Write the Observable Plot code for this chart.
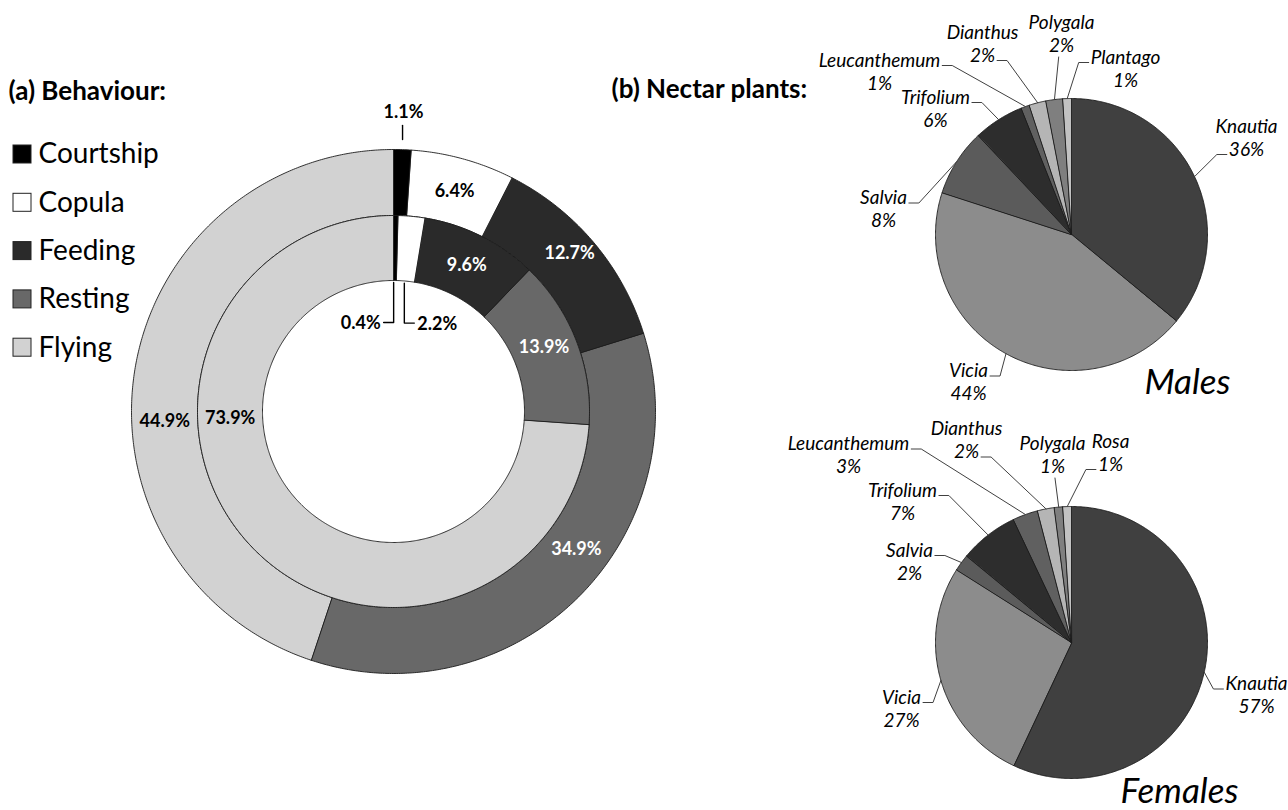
<!DOCTYPE html>
<html>
<head>
<meta charset="utf-8">
<script src="https://cdn.jsdelivr.net/npm/d3@7"></script>
<script src="https://cdn.jsdelivr.net/npm/@observablehq/plot@0.6"></script>
<style>
  body { margin: 0; background: #fff; }
  #chart svg { display: block; }
</style>
</head>
<body>
<div id="chart"></div>
<script>
// ---- data -------------------------------------------------------------
const behaviours = ["Courtship", "Copula", "Feeding", "Resting", "Flying"];
const outerRingShares = [1.1, 6.4, 12.7, 34.9, 44.9];
const innerRingShares = [0.4, 2.2, 9.6, 13.9, 73.9];

const malePlants = ["Knautia", "Vicia", "Salvia", "Trifolium", "Leucanthemum", "Dianthus", "Polygala", "Plantago"];
const maleShares = [36, 44, 8, 6, 1, 2, 2, 1];

const femalePlants = ["Knautia", "Vicia", "Salvia", "Trifolium", "Leucanthemum", "Dianthus", "Polygala", "Rosa"];
const femaleShares = [57, 27, 2, 7, 3, 2, 1, 1];

// ---- styling ----------------------------------------------------------
const FONT = "Lato, 'Open Sans', sans-serif";
const behaviourFill = ["#000000", "#ffffff", "#2a2a2a", "#686868", "#d2d2d2"];
const behaviourText = ["#000", "#000", "#fff", "#fff", "#000"];
const plantFill = {
  Knautia: "#404040", Vicia: "#8c8c8c", Salvia: "#5b5b5b", Trifolium: "#2d2d2d",
  Leucanthemum: "#606060", Dianthus: "#b5b5b5", Polygala: "#7f7f7f",
  Plantago: "#c2c2c2", Rosa: "#c2c2c2"
};
const PIE_LABEL_SIZE = 19;

// ---- layout -----------------------------------------------------------
const donut = {cx: 393, cy: 411, r0: 131, r1: 196, r2: 262};
const malePie = {cx: 1071, cy: 234, r: 136};
const femalePie = {cx: 1071, cy: 642, r: 136};

// label angle overrides (degrees clockwise from 12 o'clock) for ring labels
const ringLabelAngle = {outer: {2: 48, 3: 127, 4: 267.5}, inner: {3: 67, 4: 267.5}};
// small slices labelled outside the ring
const ringCallouts = [
  {ring: "outer", i: 0, dir: "up"},
  {ring: "inner", i: 0, dir: "down", side: -1},
  {ring: "inner", i: 1, dir: "down", side: 1}
];
// pie label blocks: [dx, dy from pie centre, leader side, line the leader hooks to]
const maleLabelLayout = [
  [175, -96.5, "left", 1], [-103, 148, "right", 0], [-188, -25, "right", 0],
  [-136, -125.5, "right", 0], [-192, -162.5, "right", 0], [-89, -190.5, "right", 1],
  [-10, -200, "below", 1], [54, -165.5, "left", 0]
];
const femaleLabelLayout = [
  [185, 53, "left", 0], [-170, 66.5, "right", 0], [-162, -80.5, "right", 0],
  [-169, -140.5, "right", 0], [-223, -187, "right", 0], [-105, -202, "right", 1],
  [-19, -187, "below", 1], [39, -189.5, "left", 1]
];

// ---- geometry helpers -------------------------------------------------
const rad = d => d * Math.PI / 180;
const polar = (cx, cy, r, deg) => ({x: cx + r * Math.sin(rad(deg)), y: cy - r * Math.cos(rad(deg))});

function angles(shares) {
  const total = d3.sum(shares);
  let acc = 0;
  return shares.map(v => {
    const a0 = acc / total * 360;
    acc += v;
    const a1 = acc / total * 360;
    return {a0, a1, mid: (a0 + a1) / 2};
  });
}

function arcPolygon(cx, cy, rIn, rOut, a0, a1) {
  const n = Math.max(2, Math.ceil((a1 - a0) / 0.5));
  const pts = [];
  for (let k = 0; k <= n; k++) pts.push(polar(cx, cy, rOut, a0 + (a1 - a0) * k / n));
  if (rIn > 0) {
    for (let k = n; k >= 0; k--) pts.push(polar(cx, cy, rIn, a0 + (a1 - a0) * k / n));
  } else {
    pts.push({x: cx, y: cy});
  }
  return pts;
}

const ctx = document.createElement("canvas").getContext("2d");
function textWidth(str, font) { ctx.font = font; return ctx.measureText(str).width; }

// ---- build rows -------------------------------------------------------
const sliceRows = [];
const ringLabels = [];
const calloutLines = [];
const calloutText = [];

const rings = {
  outer: {shares: outerRingShares, rIn: donut.r1, rOut: donut.r2},
  inner: {shares: innerRingShares, rIn: donut.r0, rOut: donut.r1}
};

for (const [ringName, ring] of Object.entries(rings)) {
  const ang = angles(ring.shares);
  ang.forEach((a, i) => {
    const key = `${ringName}-${behaviours[i]}`;
    for (const p of arcPolygon(donut.cx, donut.cy, ring.rIn, ring.rOut, a.a0, a.a1))
      sliceRows.push({key, fill: behaviourFill[i], ...p});
    const label = `${ring.shares[i].toFixed(1)}%`;
    const callout = ringCallouts.find(c => c.ring === ringName && c.i === i);
    if (callout) {
      if (callout.dir === "up") {
        const x = polar(donut.cx, donut.cy, ring.rOut, a.mid).x;
        const yTop = donut.cy - ring.rOut;
        calloutLines.push({key, x, y: yTop - 10}, {key, x, y: yTop - 24});
        calloutText.push({x: x + 1, y: yTop - 37, text: label, anchor: "middle"});
      } else {
        const p = polar(donut.cx, donut.cy, ring.rIn, a.mid);
        const x = p.x - 1.5 * (callout.side < 0) - 1.5 * (callout.side > 0);
        const yBot = p.y + 42;
        calloutLines.push({key, x, y: p.y + 2}, {key, x, y: yBot},
                          {key, x: x + 10 * callout.side, y: yBot});
        calloutText.push({x: x + 13 * callout.side, y: yBot + 1, text: label,
                          anchor: callout.side < 0 ? "end" : "start"});
      }
    } else {
      const angle = ringLabelAngle[ringName]?.[i] ?? a.mid;
      const rLab = (ring.rIn + ring.rOut) / 2 + (ringName === "outer" && i === 2 ? 8 : 0);
      const p = polar(donut.cx, donut.cy, rLab, angle);
      ringLabels.push({...p, text: label, color: behaviourText[i]});
    }
  });
}

const legendRows = behaviours.map((b, i) => ({name: b, fill: behaviourFill[i], y: 154 + 48.3 * i}));

const pieLabels = [];
const pieLeaders = [];
const labelFont = `italic ${PIE_LABEL_SIZE}px ${FONT}`;

function buildPie(tag, pie, plants, shares, layout) {
  const ang = angles(shares);
  ang.forEach((a, i) => {
    const key = `${tag}-${plants[i]}`;
    for (const p of arcPolygon(pie.cx, pie.cy, 0, pie.r, a.a0, a.a1))
      sliceRows.push({key, fill: plantFill[plants[i]], ...p});
    const [dx, dy, side, line] = layout[i];
    const lx = pie.cx + dx;
    const nameY = pie.cy + dy - 11.5;
    const pctY = pie.cy + dy + 11.5;
    const pct = `${shares[i]}%`;
    pieLabels.push({x: lx, y: nameY, text: plants[i]}, {x: lx, y: pctY, text: pct});
    const edge = polar(pie.cx, pie.cy, pie.r, a.mid);
    const lineText = line === 0 ? plants[i] : pct;
    const lineY = line === 0 ? nameY : pctY;
    const w = textWidth(lineText, labelFont);
    if (side === "below") {
      pieLeaders.push({key, x: edge.x, y: edge.y}, {key, x: edge.x + (lx - edge.x) * 0.6, y: pctY + 11});
    } else {
      const s = side === "right" ? 1 : -1;
      const hx = lx + s * (w / 2 + 2);
      const hy = lineY + 5;
      pieLeaders.push({key, x: edge.x, y: edge.y}, {key, x: hx + s * 10, y: hy}, {key, x: hx, y: hy});
    }
  });
}
buildPie("male", malePie, malePlants, maleShares, maleLabelLayout);
buildPie("female", femalePie, femalePlants, femaleShares, femaleLabelLayout);

const headings = [
  {x: 8, y: 91, text: "(a) Behaviour:"},
  {x: 611, y: 89, text: "(b) Nectar plants:"}
];
const pieTitles = [
  {x: 1187, y: 382, text: "Males"},
  {x: 1179, y: 791, text: "Females"}
];

// ---- chart ------------------------------------------------------------
const chart = Plot.plot({
  width: 1288,
  height: 810,
  margin: 0,
  x: {type: "identity", axis: null},
  y: {type: "identity", axis: null},
  color: {type: "identity"},
  style: {fontFamily: FONT, background: "#fff"},
  marks: [
    Plot.line(sliceRows, {x: "x", y: "y", z: "key", fill: "fill", stroke: "#1c1c1c",
                          strokeWidth: 0.9, curve: "linear-closed"}),
    Plot.text(ringLabels, {x: "x", y: "y", text: "text", fill: "color", fontSize: 18,
                           fontWeight: "bold", fontFamily: FONT}),
    Plot.line(calloutLines, {x: "x", y: "y", z: "key", stroke: "#000", strokeWidth: 1.4}),
    Plot.text(calloutText.filter(d => d.anchor === "middle"), {x: "x", y: "y", text: "text",
              textAnchor: "middle", fill: "#000", fontSize: 18, fontWeight: "bold", fontFamily: FONT}),
    Plot.text(calloutText.filter(d => d.anchor === "end"), {x: "x", y: "y", text: "text",
              textAnchor: "end", fill: "#000", fontSize: 18, fontWeight: "bold", fontFamily: FONT}),
    Plot.text(calloutText.filter(d => d.anchor === "start"), {x: "x", y: "y", text: "text",
              textAnchor: "start", fill: "#000", fontSize: 18, fontWeight: "bold", fontFamily: FONT}),
    // legend
    Plot.rect(legendRows, {x1: () => 13, x2: () => 31, y1: d => d.y - 9, y2: d => d.y + 9,
                           fill: "fill", stroke: "#222", strokeWidth: 1}),
    Plot.text(legendRows, {x: () => 38, y: "y", text: "name", textAnchor: "start",
                           fill: "#000", fontSize: 28, fontFamily: FONT}),
    // headings
    Plot.text(headings, {x: "x", y: "y", text: "text", textAnchor: "start", fill: "#000",
                         fontSize: 26, fontWeight: "bold", fontFamily: FONT}),
    // pie leaders and labels
    Plot.line(pieLeaders, {x: "x", y: "y", z: "key", stroke: "#404040", strokeWidth: 1}),
    Plot.text(pieLabels, {x: "x", y: "y", text: "text", fill: "#000", fontSize: PIE_LABEL_SIZE,
                          fontStyle: "italic", fontFamily: FONT}),
    Plot.text(pieTitles, {x: "x", y: "y", text: "text", fill: "#000", fontSize: 35,
                          fontStyle: "italic", fontFamily: FONT})
  ]
});
document.getElementById("chart").append(chart);
</script>
</body>
</html>
